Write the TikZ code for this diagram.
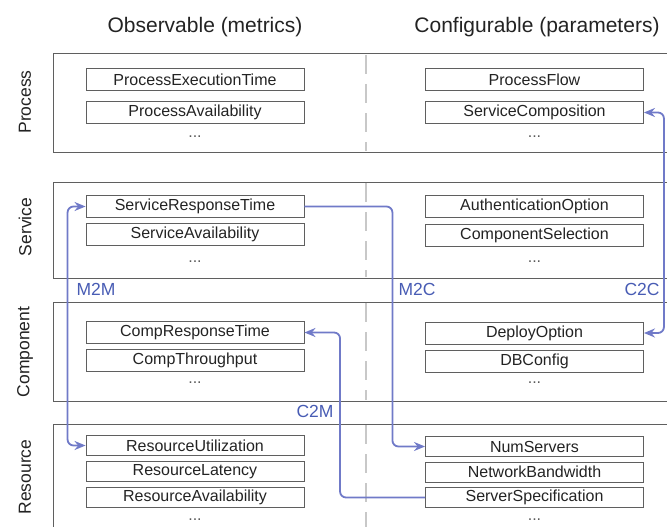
\documentclass[tikz,border=0pt]{standalone}
\usepackage{fontspec}
\setmainfont{Liberation Sans}
\usetikzlibrary{arrows.meta}
\definecolor{linkblue}{RGB}{112,122,200}
\definecolor{textblue}{RGB}{72,92,180}
\definecolor{framegray}{RGB}{95,95,95}
\definecolor{divgray}{RGB}{200,200,200}
\definecolor{inkgray}{RGB}{35,35,35}
\definecolor{dotgray}{RGB}{90,90,90}
\begin{document}
\begin{tikzpicture}[x=1pt,y=-1pt,
  font=\fontsize{16}{18}\selectfont,
  panelline/.style={draw=framegray,line width=1pt},
  divider/.style={draw=divgray,line width=1.8pt,dash pattern=on 19pt off 10pt},
  mbox/.style={draw=framegray,line width=0.9pt,minimum width=218pt,minimum height=22pt,inner sep=0pt,text=inkgray},
  rbox/.style={mbox,minimum height=20pt},
  dots/.style={inner sep=0pt,text=dotgray},
  header/.style={font=\fontsize{21}{24}\selectfont,text=inkgray},
  rowlabel/.style={font=\fontsize{17.5}{20}\selectfont,rotate=90,text=inkgray},
  linklabel/.style={font=\fontsize{17.5}{20}\selectfont,text=textblue,inner sep=0pt},
  link/.style={draw=linkblue,line width=1.8pt,rounded corners=6pt,
    arrows={-Stealth[length=11pt,width=9pt,fill=linkblue]}},
  linkboth/.style={link,arrows={Stealth[length=11pt,width=9pt,fill=linkblue]-Stealth[length=11pt,width=9pt,fill=linkblue]}}
]
\useasboundingbox (0,0) rectangle (667,527);
\clip (0,0) rectangle (667,527);

% headers
\node[header] (hobs) at (205,27) {Observable (metrics)};
\node[header] (hconf) at (537,27) {Configurable (parameters)};

% panels
\draw[panelline] (680,54) -- (53,54) -- (53,152) -- (680,152);
\draw[panelline] (680,182) -- (53,182) -- (53,278) -- (680,278);
\draw[panelline] (680,302) -- (53,302) -- (53,401) -- (680,401);
\draw[panelline] (680,424) -- (53,424) -- (53,540);

% dividers
\draw[divider] (366,55) -- (366,151);
\draw[divider] (366,183) -- (366,277);
\draw[divider] (366,303) -- (366,400);
\draw[divider] (366,425) -- (366,540);

% row labels
\node[rowlabel] (lproc) at (25,102) {Process};
\node[rowlabel] (lserv) at (25,227) {Service};
\node[rowlabel] (lcomp) at (25,352) {Component};
\node[rowlabel] (lres) at (25,477) {Resource};

% Process
\node[mbox] (pet) at (195,79.5) {ProcessExecutionTime};
\node[mbox] (pa) at (195,112.5) {ProcessAvailability};
\node[dots] (pd1) at (195,137) {...};
\node[mbox] (pf) at (534.5,79.5) {ProcessFlow};
\node[mbox] (sc) at (534.5,112.5) {ServiceComposition};
\node[dots] (pd2) at (534.5,137) {...};

% Service
\node[mbox] (srt) at (195,206.5) {ServiceResponseTime};
\node[mbox] (sa) at (195,234.5) {ServiceAvailability};
\node[dots] (sd1) at (195,262) {...};
\node[mbox] (ao) at (534.5,206.5) {AuthenticationOption};
\node[mbox] (cs) at (534.5,235) {ComponentSelection};
\node[dots] (sd2) at (534.5,262) {...};

% Component
\node[mbox] (crt) at (195,332.5) {CompResponseTime};
\node[mbox] (ct) at (195,360.5) {CompThroughput};
\node[dots] (cd1) at (195,383) {...};
\node[mbox] (dep) at (534.5,333) {DeployOption};
\node[mbox] (dbc) at (534.5,361.5) {DBConfig};
\node[dots] (cd2) at (534.5,383) {...};

% Resource
\node[rbox] (ru) at (195,445.5) {ResourceUtilization};
\node[rbox] (rl) at (195,471.5) {ResourceLatency};
\node[rbox] (ra) at (195,497.5) {ResourceAvailability};
\node[dots] (rd1) at (195,520) {...};
\node[rbox] (ns) at (534.5,446.5) {NumServers};
\node[rbox] (nb) at (534.5,472) {NetworkBandwidth};
\node[rbox] (ss) at (534.5,497.5) {ServerSpecification};
\node[dots] (rd2) at (534.5,520) {...};

% links
\draw[linkboth] (srt.west) -- ++(-18,0) |- (ru.west);
\draw[link] (srt.east) -- ++(88,0) |- (ns.west);
\draw[linkboth] (sc.east) -- ++(20,0) |- (dep.east);
\draw[link] (ss.west) -- ++(-85,0) |- (crt.east);

% link labels
\node[linklabel] (m2m) at (96,289) {M2M};
\node[linklabel] (m2c) at (417,289) {M2C};
\node[linklabel] (c2c) at (642,289) {C2C};
\node[linklabel] (c2m) at (315,411) {C2M};
\end{tikzpicture}
\end{document}
